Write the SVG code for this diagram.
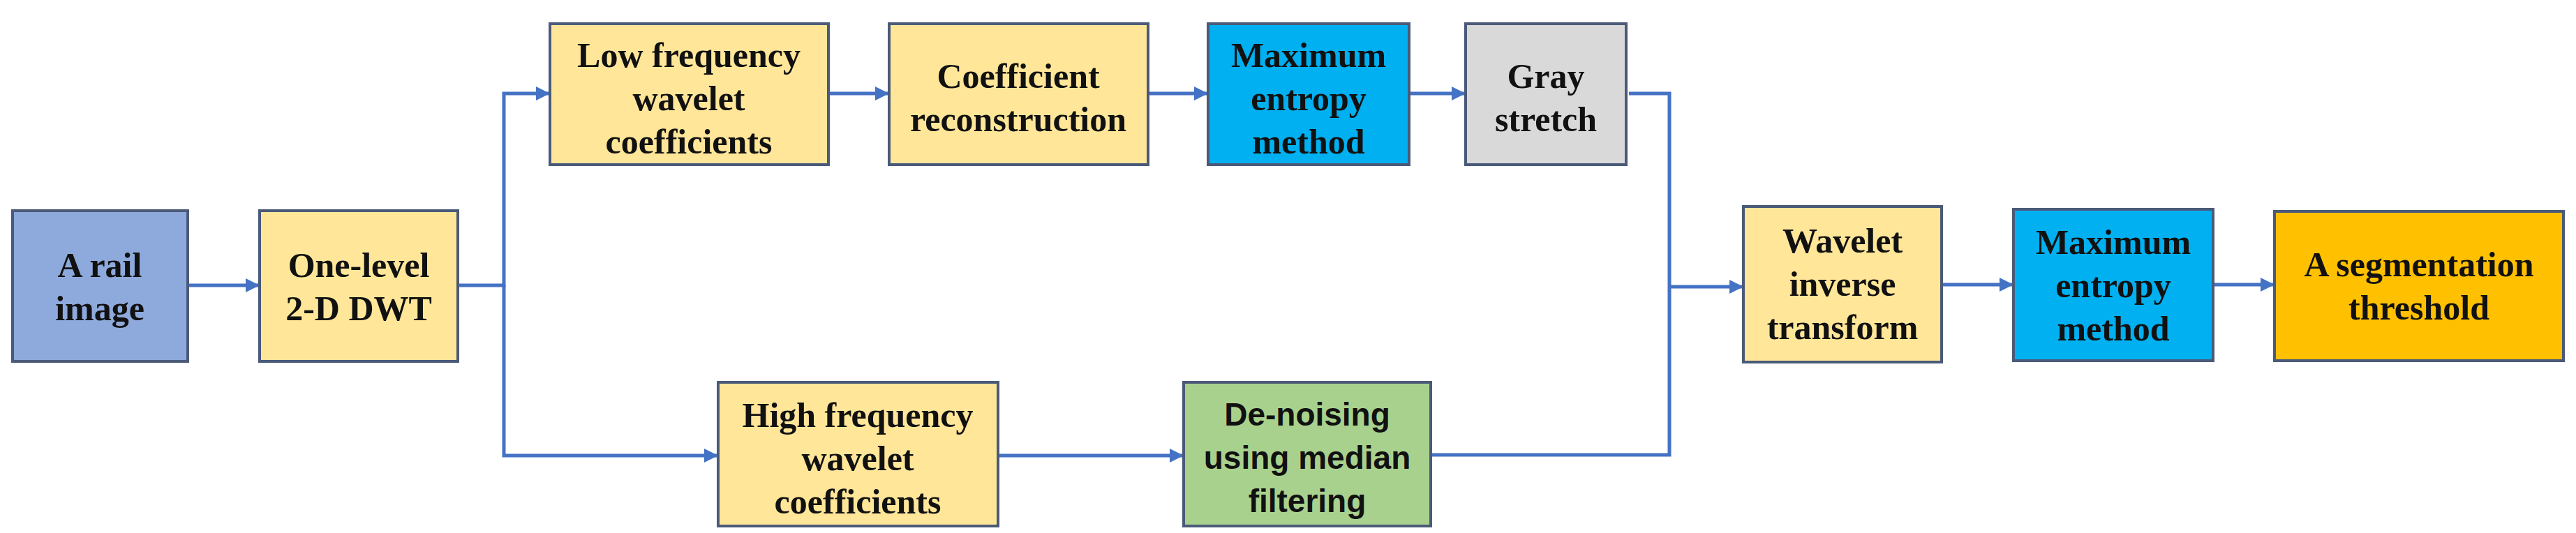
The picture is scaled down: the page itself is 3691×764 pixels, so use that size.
<svg xmlns="http://www.w3.org/2000/svg" width="3691" height="764" viewBox="0 0 3691 764">
<defs>
<style>
.n{stroke:#4a5a78;stroke-width:4}
.t{font-family:"Liberation Serif",serif;font-weight:bold;font-size:50px;text-anchor:middle;fill:#111}
.s{font-family:"Liberation Sans",sans-serif;font-weight:bold;font-size:46px;text-anchor:middle;fill:#111}
.c{fill:none;stroke:#4472C4;stroke-width:5}
</style>
<marker id="a" viewBox="0 0 10 10" refX="9" refY="5" markerWidth="4" markerHeight="5" orient="auto" markerUnits="strokeWidth"><path d="M0,0L10,5L0,10z" fill="#4472C4"/></marker>
</defs>
<rect width="3691" height="764" fill="#fff"/>
<g id="connectors">
<path class="c" d="M269,409H370" marker-end="url(#a)"/>
<path class="c" d="M656,409H722V134H786" marker-end="url(#a)"/>
<path class="c" d="M722,409V653H1027" marker-end="url(#a)"/>
<path class="c" d="M1187,134H1272" marker-end="url(#a)"/>
<path class="c" d="M1645,134H1729" marker-end="url(#a)"/>
<path class="c" d="M2019,134H2098" marker-end="url(#a)"/>
<path class="c" d="M1430,653H1694" marker-end="url(#a)"/>
<path class="c" d="M2334,134H2392V652H2050"/>
<path class="c" d="M2392,411H2496" marker-end="url(#a)"/>
<path class="c" d="M2782,408H2883" marker-end="url(#a)"/>
<path class="c" d="M3171,408H3257" marker-end="url(#a)"/>
</g>
<g id="rail"><rect class="n" x="18" y="302" width="251" height="216" fill="#8EA9DB"/><text class="t" x="143" y="397">A rail</text><text class="t" x="143" y="459">image</text></g>
<g id="dwt"><rect class="n" x="372" y="302" width="284" height="216" fill="#FFE699"/><text class="t" x="514" y="397">One-level</text><text class="t" x="514" y="459">2-D DWT</text></g>
<g id="low"><rect class="n" x="788" y="34" width="399" height="202" fill="#FFE699"/><text class="t" x="987" y="96">Low frequency</text><text class="t" x="987" y="158">wavelet</text><text class="t" x="987" y="220">coefficients</text></g>
<g id="recon"><rect class="n" x="1274" y="34" width="371" height="202" fill="#FFE699"/><text class="t" x="1459" y="126">Coefficient</text><text class="t" x="1459" y="188">reconstruction</text></g>
<g id="maxent1"><rect class="n" x="1731" y="34" width="288" height="202" fill="#00B0F0"/><text class="t" x="1875" y="96">Maximum</text><text class="t" x="1875" y="158">entropy</text><text class="t" x="1875" y="220">method</text></g>
<g id="gray"><rect class="n" x="2100" y="34" width="230" height="202" fill="#D9D9D9"/><text class="t" x="2215" y="126">Gray</text><text class="t" x="2215" y="188">stretch</text></g>
<g id="high"><rect class="n" x="1029" y="548" width="401" height="206" fill="#FFE699"/><text class="t" x="1229" y="612">High frequency</text><text class="t" x="1229" y="674">wavelet</text><text class="t" x="1229" y="736">coefficients</text></g>
<g id="denoise"><rect class="n" x="1696" y="548" width="354" height="206" fill="#A9D18E"/><text class="s" x="1873" y="610">De-noising</text><text class="s" x="1873" y="672">using median</text><text class="s" x="1873" y="734">filtering</text></g>
<g id="inverse"><rect class="n" x="2498" y="296" width="284" height="223" fill="#FFE699"/><text class="t" x="2640" y="362">Wavelet</text><text class="t" x="2640" y="424">inverse</text><text class="t" x="2640" y="486">transform</text></g>
<g id="maxent2"><rect class="n" x="2885" y="300" width="286" height="217" fill="#00B0F0"/><text class="t" x="3028" y="364">Maximum</text><text class="t" x="3028" y="426">entropy</text><text class="t" x="3028" y="488">method</text></g>
<g id="seg"><rect class="n" x="3259" y="303" width="414" height="214" fill="#FFC000"/><text class="t" x="3466" y="396">A segmentation</text><text class="t" x="3466" y="458">threshold</text></g>
</svg>
